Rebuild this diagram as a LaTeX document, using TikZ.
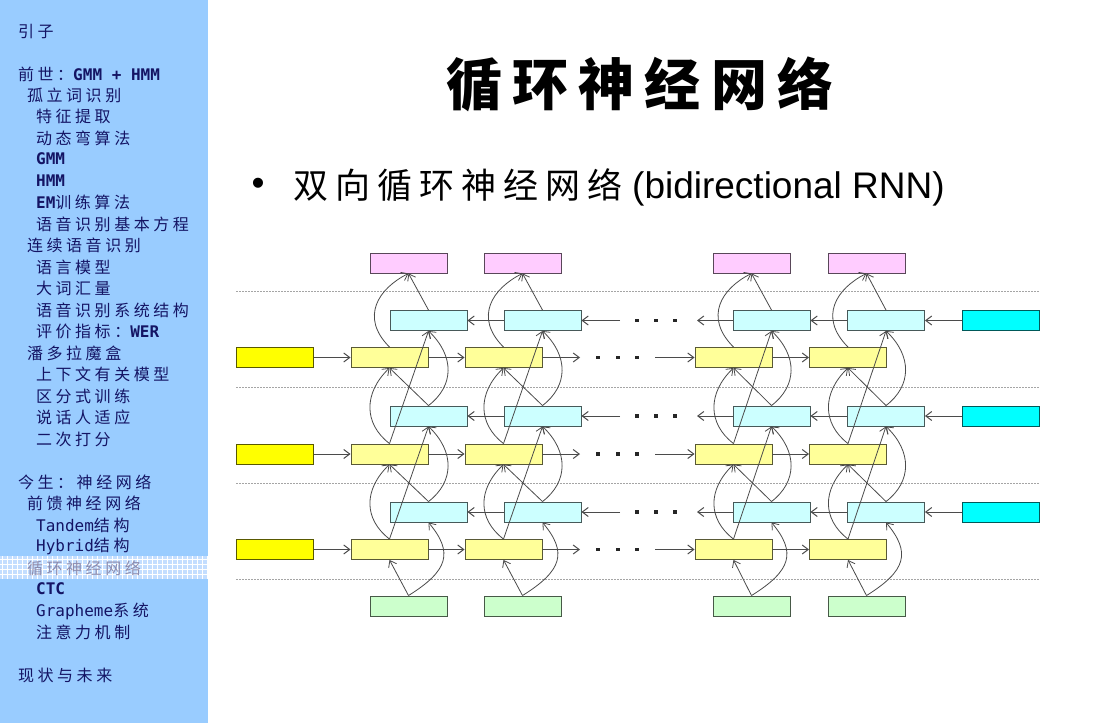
\documentclass[tikz,border=0pt]{standalone}
\usepackage{fontspec}
\usetikzlibrary{arrows.meta}
\newfontfamily\sbcjk{Noto Sans CJK SC}[LetterSpace=22]
\newfontfamily\sbmono{DejaVu Sans Mono}
\newfontfamily\lsans{Liberation Sans}
\newfontfamily\titlecjk{Noto Sans CJK SC}[LetterSpace=18]
\newfontfamily\bulcjk{Noto Sans CJK SC}[LetterSpace=20]
\newcommand\sbm[1]{{\sbmono\bfseries #1}}
\newcommand\sbr[1]{{\sbmono #1}}
\definecolor{sidebar}{RGB}{153,204,255}
\definecolor{navy}{RGB}{20,20,100}
\definecolor{hlband}{RGB}{196,222,255}
\definecolor{hltext}{RGB}{140,140,175}
\definecolor{cpink}{RGB}{255,204,255}
\definecolor{ccyan}{RGB}{204,255,255}
\definecolor{cyel}{RGB}{255,255,153}
\definecolor{cgreen}{RGB}{204,255,204}
\definecolor{byel}{RGB}{255,255,0}
\definecolor{bcyan}{RGB}{0,255,255}
\definecolor{edgegray}{RGB}{75,75,75}
\definecolor{dashgray}{RGB}{165,165,165}
\tikzset{
  sbitem/.style={anchor=west, inner sep=0pt, text=navy, font=\fontsize{16}{16}\sbcjk},
  unitbox/.style={draw=#1!35!black, fill=#1, line width=0.9pt, minimum width=77pt, minimum height=20pt, inner sep=0pt},
  ed/.style={draw=edgegray, line width=0.8pt, -{Straight Barb[length=6pt,width=9pt]}},
  hz/.style={draw=edgegray, line width=1pt, -{Straight Barb[length=6pt,width=9pt]}},
  sep/.style={draw=dashgray, line width=0.8pt, dash pattern=on 2pt off 1pt},
  dot/.style={rectangle, fill=black!85, inner sep=0pt, minimum size=3.2pt},
}
\begin{document}
\begin{tikzpicture}[x=1pt, y=-1pt]
\useasboundingbox (0,0) rectangle (1094,723);
\fill[white] (0,0) rectangle (1094,723);
% sidebar
\fill[sidebar] (0,0) rectangle (208,723);
\fill[hlband] (0,556) rectangle (208,579);
\foreach \i in {2,7,...,207} \draw[white, line width=0.5pt] (\i,556) -- (\i,579);
\foreach \j in {559,564,569,574} \draw[white, line width=0.5pt] (0,\j) -- (208,\j);
\node[sbitem] (s1) at (18,31) {引子};
\node[sbitem] (s2) at (18,74) {前世：\sbm{GMM + HMM}};
\node[sbitem] (s3) at (27,95) {孤立词识别};
\node[sbitem] (s4) at (36,116) {特征提取};
\node[sbitem] (s5) at (36,138) {动态弯算法};
\node[sbitem] (s6) at (36,159) {\sbm{GMM}};
\node[sbitem] (s7) at (36,181) {\sbm{HMM}};
\node[sbitem] (s8) at (36,202) {\sbm{EM}训练算法};
\node[sbitem] (s9) at (36,224) {语音识别基本方程};
\node[sbitem] (s10) at (27,245) {连续语音识别};
\node[sbitem] (s11) at (36,267) {语言模型};
\node[sbitem] (s12) at (36,288) {大词汇量};
\node[sbitem] (s13) at (36,310) {语音识别系统结构};
\node[sbitem] (s14) at (36,331) {评价指标：\sbm{WER}};
\node[sbitem] (s15) at (27,353) {潘多拉魔盒};
\node[sbitem] (s16) at (36,374) {上下文有关模型};
\node[sbitem] (s17) at (36,396) {区分式训练};
\node[sbitem] (s18) at (36,417) {说话人适应};
\node[sbitem] (s19) at (36,439) {二次打分};
\node[sbitem] (s20) at (18,482) {今生：神经网络};
\node[sbitem] (s21) at (27,503) {前馈神经网络};
\node[sbitem] (s22) at (36,525) {\sbr{Tandem}结构};
\node[sbitem] (s23) at (36,546) {\sbr{Hybrid}结构};
\node[sbitem, text=hltext] (s24) at (27,568) {循环神经网络};
\node[sbitem] (s25) at (36,589) {\sbm{CTC}};
\node[sbitem] (s26) at (36,611) {\sbr{Grapheme}系统};
\node[sbitem] (s27) at (36,632) {注意力机制};
\node[sbitem] (s28) at (18,675) {现状与未来};
% title and bullet
\node[inner sep=0pt, font=\fontsize{56}{56}\titlecjk\bfseries] (title) at (640,84) {循环神经网络};
\node[inner sep=0pt, font=\fontsize{37}{37}\lsans] (bul) at (258,187) {•};
\node[anchor=west, inner sep=0pt] (sub) at (293,187) {{\fontsize{35}{35}\bulcjk 双向循环神经网络}\hspace{10pt}{\fontsize{37}{37}\lsans(bidirectional RNN)}};
% separators
\foreach \yy in {291,387,483,579} \draw[sep] (236,\yy) -- (1039,\yy);
% input / end boxes
\foreach \r/\cy/\yy in {1/320.5/357.5, 2/416/454, 3/512/549.5} {
  \node[unitbox=byel] (in\r) at (275,\yy) {};
  \node[unitbox=bcyan] (rc\r) at (1000.5,\cy) {};
}
% columns
\foreach \k/\px/\cx/\yx in {1/408.5/428.5/389.5, 2/522.5/542.5/503.5, 3/751.5/771.5/733.5, 4/866.5/886/848} {
  \node[unitbox=cpink] (p\k) at (\px,263) {};
  \node[unitbox=cgreen] (g\k) at (\px,606) {};
  \foreach \r/\cy/\yy in {1/320.5/357.5, 2/416/454, 3/512/549.5} {
    \node[unitbox=ccyan] (c\k-\r) at (\cx,\cy) {};
    \node[unitbox=cyel] (y\k-\r) at (\yx,\yy) {};
  }
}
% horizontal connections
\foreach \r/\cy/\yy in {1/320.5/357.5, 2/416/454, 3/512/549.5} {
  \coordinate (ya\r) at (580,\yy);
  \coordinate (yb\r) at (655,\yy);
  \coordinate (ca\r) at (697,\cy);
  \coordinate (cb\r) at (620,\cy);
  \draw[hz] (in\r.east) -- (y1-\r.west);
  \draw[hz] (y1-\r.east) -- (y2-\r.west);
  \draw[hz] (y2-\r.east) -- (ya\r);
  \draw[hz] (yb\r) -- (y3-\r.west);
  \draw[hz] (y3-\r.east) -- (y4-\r.west);
  \draw[hz] (rc\r.west) -- (c4-\r.east);
  \draw[hz] (c4-\r.west) -- (c3-\r.east);
  \draw[hz] (c3-\r.west) -- (ca\r);
  \draw[hz] (cb\r) -- (c2-\r.east);
  \draw[hz] (c2-\r.west) -- (c1-\r.east);
  \foreach \dx [count=\n] in {598,618,637} \node[dot] (dy\r-\n) at (\dx,\yy) {};
  \foreach \dx [count=\n] in {637,656,675} \node[dot] (dc\r-\n) at (\dx,\cy) {};
}
% vertical connections
\foreach \k in {1,2,3,4} {
  \draw[ed] (g\k.north) -- (y\k-3.south);
  \draw[ed] (g\k.north) .. controls +(40,-25) and +(25,30) .. (c\k-3.south);
  \foreach \r/\q in {3/2, 2/1} {
    \draw[ed] (y\k-\r.north) .. controls +(-26,-20) and +(-26,25) .. (y\k-\q.south);
    \draw[ed] (y\k-\r.north) -- (c\k-\q.south);
    \draw[ed] (c\k-\r.north) -- (y\k-\q.south);
    \draw[ed] (c\k-\r.north) .. controls +(26,-20) and +(26,25) .. (c\k-\q.south);
  }
  \draw[ed] (y\k-1.north) .. controls +(-30,-30) and +(-30,15) .. (p\k.south);
  \draw[ed] (c\k-1.north) -- (p\k.south);
}
\end{tikzpicture}
\end{document}
